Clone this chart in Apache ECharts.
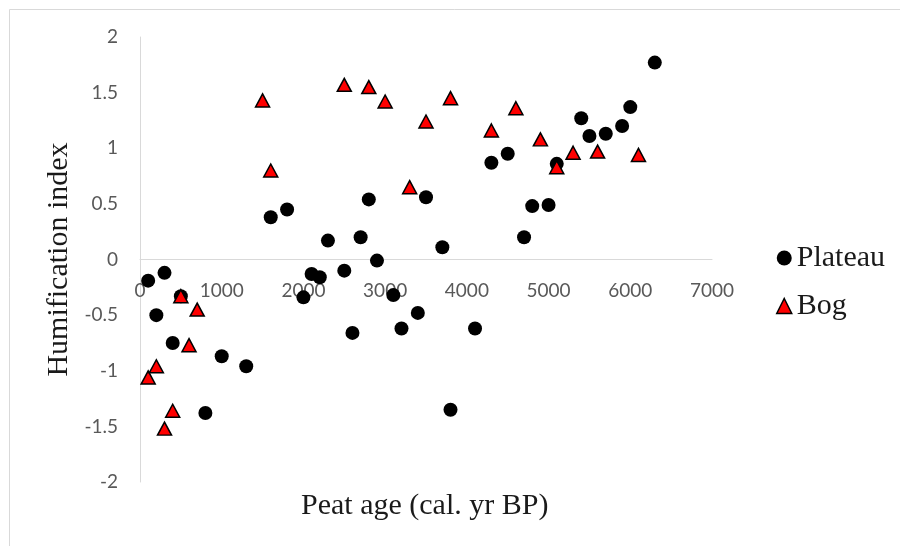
<!DOCTYPE html>
<html>
<head>
<meta charset="utf-8">
<script src="https://cdn.jsdelivr.net/npm/echarts@6/dist/echarts.min.js"></script>
<style>
html,body{margin:0;padding:0;background:#fff;}
#chart{width:900px;height:546px;}
</style>
</head>
<body>
<div id="chart"></div>
<script>
// Plateau series: [peat age, humification index]
var plateauAge = [100, 200, 300, 400, 500, 800, 1000, 1300, 1600, 1800, 2000, 2100, 2200, 2300, 2500, 2600, 2700, 2800, 2900, 3100, 3200, 3400, 3500, 3700, 3800, 4100, 4300, 4500, 4700, 4800, 5000, 5100, 5400, 5500, 5700, 5900, 6000, 6300];
var plateauHI  = [-0.19, -0.50, -0.12, -0.75, -0.33, -1.38, -0.87, -0.96, 0.38, 0.45, -0.34, -0.13, -0.16, 0.17, -0.10, -0.66, 0.20, 0.54, -0.01, -0.32, -0.62, -0.48, 0.56, 0.11, -1.35, -0.62, 0.87, 0.95, 0.20, 0.48, 0.49, 0.86, 1.27, 1.11, 1.13, 1.20, 1.37, 1.77];
// Bog series
var bogAge = [100, 200, 300, 400, 500, 600, 700, 1500, 1600, 2500, 2800, 3000, 3300, 3500, 3800, 4300, 4600, 4900, 5100, 5300, 5600, 6100];
var bogHI  = [-1.06, -0.96, -1.52, -1.36, -0.33, -0.77, -0.45, 1.43, 0.80, 1.57, 1.55, 1.42, 0.65, 1.24, 1.45, 1.16, 1.36, 1.08, 0.83, 0.96, 0.97, 0.94];

var seriesNames = ['Plateau', 'Bog'];
var xTitle = 'Peat age (cal. yr BP)';
var yTitle = 'Humification index';

function pairs(xs, ys) { return xs.map(function (x, i) { return [x, ys[i]]; }); }

var chart = echarts.init(document.getElementById('chart'), null, {renderer: 'canvas'});
var tickFont = {color: '#595959', fontFamily: 'Lato', fontSize: 19};
chart.setOption({
  animation: false,
  backgroundColor: '#ffffff',
  graphic: [
    {type: 'line', shape: {x1: 9.5, y1: 9.5, x2: 900, y2: 9.5}, style: {stroke: '#d9d9d9', lineWidth: 1}},
    {type: 'line', shape: {x1: 9.5, y1: 9.5, x2: 9.5, y2: 546}, style: {stroke: '#d9d9d9', lineWidth: 1}},
    {type: 'text', left: 301, top: 491, style: {text: xTitle, font: '30px "Liberation Serif"', fill: '#1a1a1a'}},
    {type: 'text', x: 59, y: 259.5, rotation: Math.PI / 2, style: {text: yTitle, font: '30px "Liberation Serif"', fill: '#1a1a1a', align: 'center', verticalAlign: 'middle'}}
  ],
  grid: {left: 140, right: 188, top: 37, bottom: 64, containLabel: false},
  legend: {
    orient: 'vertical', left: 771, top: 238, itemGap: 18,
    itemWidth: 15, itemHeight: 15,
    textStyle: {fontFamily: 'Liberation Serif', fontSize: 30, color: '#1a1a1a'},
    data: [
      {name: seriesNames[0], icon: 'circle'},
      {name: seriesNames[1], icon: 'triangle', itemStyle: {color: '#ff0000', borderColor: '#000', borderWidth: 1.5}}
    ]
  },
  xAxis: {
    type: 'value', min: 0, max: 7000, interval: 1000,
    position: 'bottom', offset: -222.5,
    axisLine: {onZero: false, lineStyle: {color: '#d9d9d9', width: 1}},
    axisTick: {show: false},
    splitLine: {show: false},
    axisLabel: Object.assign({margin: 22, formatter: function (v) { return String(v); }}, tickFont)
  },
  yAxis: {
    type: 'value', min: -2, max: 2, interval: 0.5,
    axisLine: {show: true, onZero: false, lineStyle: {color: '#d9d9d9', width: 1}},
    axisTick: {show: false},
    splitLine: {show: false},
    axisLabel: Object.assign({margin: 22}, tickFont)
  },
  series: [
    {
      name: seriesNames[0], type: 'scatter', symbol: 'circle', symbolSize: 14,
      itemStyle: {color: '#000000', opacity: 1},
      data: pairs(plateauAge, plateauHI), z: 2
    },
    {
      name: seriesNames[1], type: 'scatter', symbol: 'triangle', symbolSize: [14, 13],
      itemStyle: {color: '#ff0000', borderColor: '#000000', borderWidth: 1.5, opacity: 1},
      data: pairs(bogAge, bogHI), z: 3
    }
  ]
});
</script>
</body>
</html>
